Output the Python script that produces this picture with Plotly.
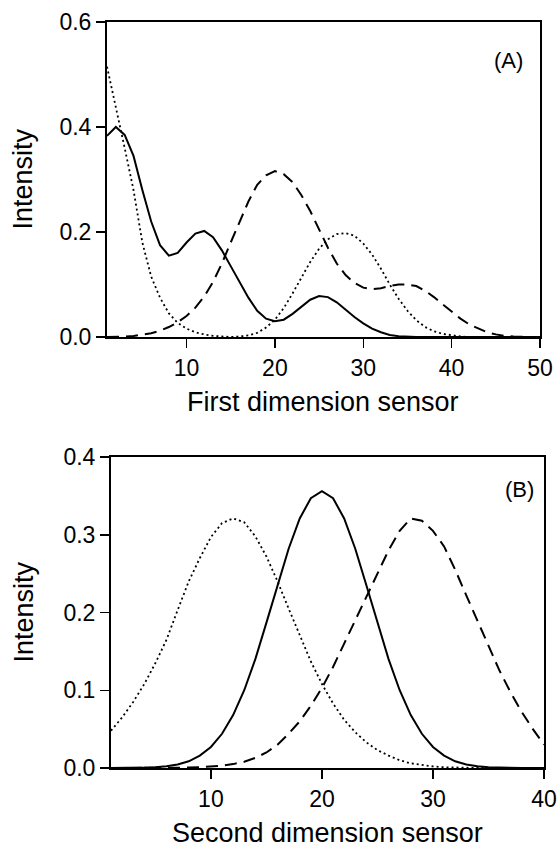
import plotly.graph_objects as go

# ---------- Panel (A): first dimension sensor ----------
sensor_a = list(range(1, 51))
solid_a = [0.383, 0.400, 0.385, 0.345, 0.280, 0.220, 0.175, 0.155, 0.160, 0.180,
           0.197, 0.202, 0.190, 0.165, 0.135, 0.105, 0.075, 0.050, 0.035, 0.030,
           0.033, 0.044, 0.058, 0.071, 0.078, 0.076, 0.066, 0.052, 0.038, 0.026,
           0.016, 0.009, 0.004, 0.0015, 0.0005, 0.0, 0.0, 0.0, 0.0, 0.0,
           0.0, 0.0, 0.0, 0.0, 0.0, 0.0, 0.0, 0.0, 0.0, 0.0]
dashed_a = [0.0, 0.0, 0.001, 0.002, 0.004, 0.007, 0.012, 0.019, 0.028, 0.040,
            0.056, 0.077, 0.105, 0.140, 0.180, 0.220, 0.258, 0.290, 0.308, 0.316,
            0.310, 0.295, 0.270, 0.240, 0.205, 0.170, 0.140, 0.118, 0.103, 0.094,
            0.091, 0.093, 0.097, 0.100, 0.100, 0.097, 0.088, 0.076, 0.062, 0.048,
            0.035, 0.024, 0.016, 0.009, 0.005, 0.002, 0.001, 0.0, 0.0, 0.0]
dotted_a = [0.515, 0.440, 0.360, 0.280, 0.180, 0.115, 0.075, 0.045, 0.027, 0.016,
            0.009, 0.005, 0.002, 0.001, 0.0, 0.001, 0.003, 0.008, 0.018, 0.033,
            0.055, 0.083, 0.113, 0.143, 0.168, 0.186, 0.196, 0.198, 0.193, 0.178,
            0.157, 0.130, 0.100, 0.073, 0.050, 0.032, 0.019, 0.011, 0.006, 0.003,
            0.001, 0.0, 0.0, 0.0, 0.0, 0.0, 0.0, 0.0, 0.0, 0.0]

# ---------- Panel (B): second dimension sensor ----------
sensor_b = list(range(1, 41))
solid_b = [0.0, 0.0, 0.0, 0.0005, 0.001, 0.0022, 0.0045, 0.0086, 0.016, 0.027,
           0.044, 0.068, 0.100, 0.140, 0.187, 0.235, 0.282, 0.321, 0.347, 0.356,
           0.347, 0.321, 0.282, 0.235, 0.187, 0.140, 0.100, 0.068, 0.044, 0.027,
           0.016, 0.0086, 0.0045, 0.0022, 0.001, 0.0005, 0.0, 0.0, 0.0, 0.0]
dotted_b = [0.048, 0.065, 0.085, 0.108, 0.135, 0.165, 0.203, 0.240, 0.270, 0.297,
            0.315, 0.321, 0.316, 0.298, 0.272, 0.240, 0.205, 0.170, 0.137, 0.108,
            0.083, 0.062, 0.046, 0.033, 0.023, 0.016, 0.010, 0.006, 0.004, 0.002,
            0.001, 0.0005, 0.0, 0.0, 0.0, 0.0, 0.0, 0.0, 0.0, 0.0]
dashed_b = [0.0, 0.0, 0.0, 0.0, 0.0, 0.0, 0.0, 0.0005, 0.001, 0.002,
            0.003, 0.005, 0.008, 0.013, 0.020, 0.030, 0.044, 0.060, 0.080, 0.103,
            0.130, 0.160, 0.190, 0.222, 0.252, 0.280, 0.305, 0.321, 0.318, 0.305,
            0.285, 0.255, 0.222, 0.190, 0.158, 0.125, 0.097, 0.072, 0.050, 0.030]

xticks_a = [10, 20, 30, 40, 50]
yticks_a = [0.0, 0.2, 0.4, 0.6]
xticks_b = [10, 20, 30, 40]
yticks_b = [0.0, 0.1, 0.2, 0.3, 0.4]

FONT = "Liberation Sans, Arial, sans-serif"
W, H = 560, 847

fig = go.Figure()

def add(x, y, dash, width, xa, ya):
    fig.add_trace(go.Scatter(x=x, y=y, mode="lines", xaxis=xa, yaxis=ya,
                             line=dict(color="black", width=width, dash=dash),
                             showlegend=False, hoverinfo="skip"))

add(sensor_a, dotted_a, "2px,3px", 1.8, "x", "y")
add(sensor_a, dashed_a, "12px,7px", 2, "x", "y")
add(sensor_a, solid_a, "solid", 2, "x", "y")
add(sensor_b, dotted_b, "2px,3px", 1.8, "x2", "y2")
add(sensor_b, dashed_b, "12px,7px", 2, "x2", "y2")
add(sensor_b, solid_b, "solid", 2, "x2", "y2")

axis_common = dict(showline=True, linecolor="black", linewidth=2, mirror=True,
                   ticks="outside", ticklen=9, tickwidth=1.5, tickcolor="black",
                   showgrid=False, zeroline=False, automargin=False,
                   tickfont=dict(family=FONT, size=23, color="black"))

# pixel geometry -> paper fractions
ax_l, ax_r, ay_t, ay_b = 107, 540, 22, 337
bx_l, bx_r, by_t, by_b = 111, 544, 457, 768

fig.update_layout(
    width=W, height=H, margin=dict(l=0, r=0, t=0, b=0, autoexpand=False),
    paper_bgcolor="white", plot_bgcolor="white",
    xaxis=dict(domain=[ax_l / W, ax_r / W], range=[1, 50], tickvals=xticks_a,
               anchor="y", **axis_common),
    yaxis=dict(domain=[1 - ay_b / H, 1 - ay_t / H], range=[0, 0.6], tickvals=yticks_a,
               tickformat=".1f", anchor="x", **axis_common),
    xaxis2=dict(domain=[bx_l / W, bx_r / W], range=[1, 40], tickvals=xticks_b,
                anchor="y2", **axis_common),
    yaxis2=dict(domain=[1 - by_b / H, 1 - by_t / H], range=[0, 0.4], tickvals=yticks_b,
                tickformat=".1f", anchor="x2", **axis_common),
)

def ann(text, x, y, size, angle=0, xanchor="center"):
    fig.add_annotation(text=text, x=x / W, y=1 - y / H, xref="paper", yref="paper",
                       showarrow=False, textangle=angle, xanchor=xanchor, yanchor="middle",
                       font=dict(family=FONT, size=size, color="black"))

ann("First dimension sensor", (ax_l + ax_r) / 2, 402, 27)
ann("Second dimension sensor", (bx_l + bx_r) / 2, 833, 27)
ann("Intensity", 23, (ay_t + ay_b) / 2, 27, angle=-90)
ann("Intensity", 23, (by_t + by_b) / 2, 27, angle=-90)
ann("(A)", 525, 60, 22, xanchor="right")
ann("(B)", 536, 490, 22, xanchor="right")

fig.write_html(
    "out.html",
    config={"displayModeBar": False, "staticPlot": True},
    post_script="document.body.style.margin='0';document.body.style.overflow='hidden';",
)
